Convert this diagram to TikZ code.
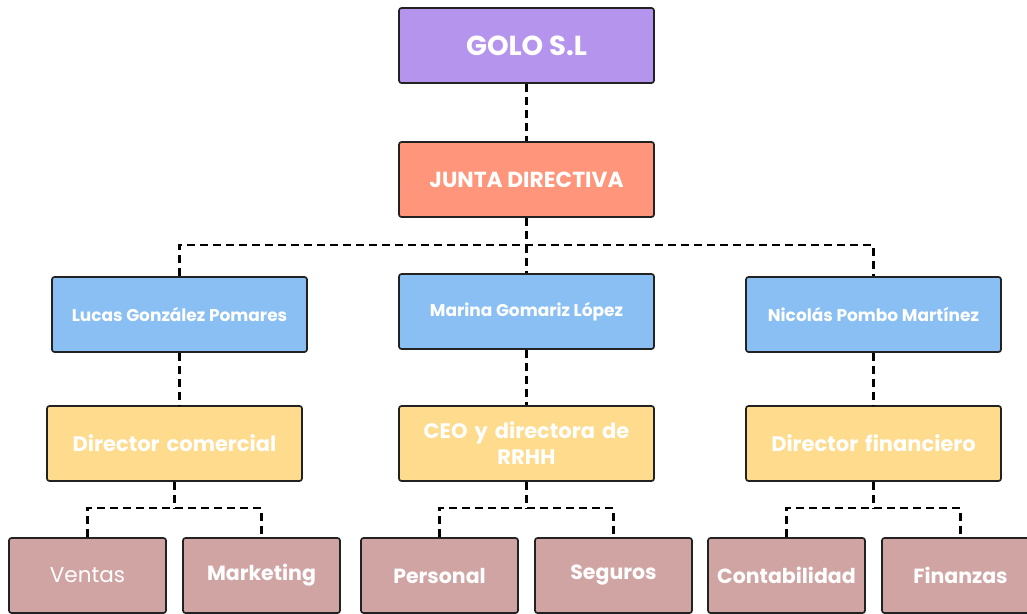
\documentclass[tikz,border=0pt]{standalone}
\usepackage{fontspec}
\setmainfont{Poppins}
\usetikzlibrary{positioning}
\definecolor{golo}{RGB}{181,148,238}
\definecolor{junta}{RGB}{255,149,122}
\definecolor{persona}{RGB}{137,191,242}
\definecolor{cargo}{RGB}{254,219,141}
\definecolor{area}{RGB}{209,164,164}
\definecolor{borde}{RGB}{34,34,34}
\tikzstyle{caja} = [rectangle, rounded corners=2.5pt, minimum width=255pt, minimum height=75pt, text centered, draw=borde, line width=1.7pt, text=white, font=\bfseries]
\tikzstyle{empresa} = [caja, fill=golo, font=\bfseries\fontsize{27.5}{30}\selectfont]
\tikzstyle{consejo} = [caja, fill=junta, font=\bfseries\fontsize{21.8}{25}\selectfont]
\tikzstyle{nombre} = [caja, fill=persona, font=\bfseries\fontsize{17}{20}\selectfont]
\tikzstyle{puesto} = [caja, fill=cargo, font=\bfseries\fontsize{21}{26}\selectfont, text width=235pt, align=center]
\tikzstyle{depto} = [caja, fill=area, minimum width=157pt, font=\bfseries\fontsize{20.5}{24}\selectfont]
\tikzstyle{enlace} = [line width=2.4pt, dash pattern=on 8pt off 5pt]

\begin{document}
\begin{tikzpicture}[x=1pt, y=-1pt]
    \clip (0,0) rectangle (1027,613);
    \fill[white] (0,0) rectangle (1027,613);
    % cabecera
    \node (golo) [empresa] at (526.5,45.5) {GOLO S.L};
    \node (junta) [consejo] at (526.5,179.5) {JUNTA DIRECTIVA};
    \draw [enlace] (golo) -- (junta);
    % personas
    \node (lucas) [nombre] at (179.5,314.5) {Lucas González Pomares};
    \node (marina) [nombre] at (526.5,311.5) {Marina Gomariz López};
    \node (nicolas) [nombre] at (873.5,314.5) {Nicolás Pombo Martínez};
    \coordinate (bus) at (526.5,245);
    \draw [enlace] (junta) -- (bus);
    \draw [enlace] (lucas.north) |- (bus) -| (nicolas.north);
    \draw [enlace] (bus) -- (marina);
    % cargos
    \node (comercial) [puesto] at (174.5,443.5) {Director comercial};
    \node (ceo) [puesto] at (526.5,443.5) {CEO y directora de\\RRHH};
    \node (financiero) [puesto] at (873.5,443.5) {Director financiero};
    \draw [enlace] (lucas) -- (lucas |- comercial.north);
    \draw [enlace] (marina) -- (ceo);
    \draw [enlace] (nicolas) -- (nicolas |- financiero.north);
    % departamentos
    \node (ventas) [depto, font=\fontsize{21.5}{24}\selectfont] at (87.5,575.5) {Ventas};
    \node (marketing) [depto] at (261.5,575.5) {Marketing};
    \node (personal) [depto] at (439.5,575.5) {Personal};
    \node (seguros) [depto] at (613.5,575.5) {Seguros};
    \node (contabilidad) [depto] at (786.5,575.5) {Contabilidad};
    \node (finanzas) [depto] at (960.5,575.5) {Finanzas};
    \coordinate (b1) at (174.5,508);
    \coordinate (b2) at (526.5,508);
    \coordinate (b3) at (873.5,508);
    \draw [enlace] (comercial) -- (b1);
    \draw [enlace] (ventas.north) |- (b1) -| (marketing.north);
    \draw [enlace] (ceo) -- (b2);
    \draw [enlace] (personal.north) |- (b2) -| (seguros.north);
    \draw [enlace] (financiero) -- (b3);
    \draw [enlace] (contabilidad.north) |- (b3) -| (finanzas.north);
\end{tikzpicture}
\end{document}
